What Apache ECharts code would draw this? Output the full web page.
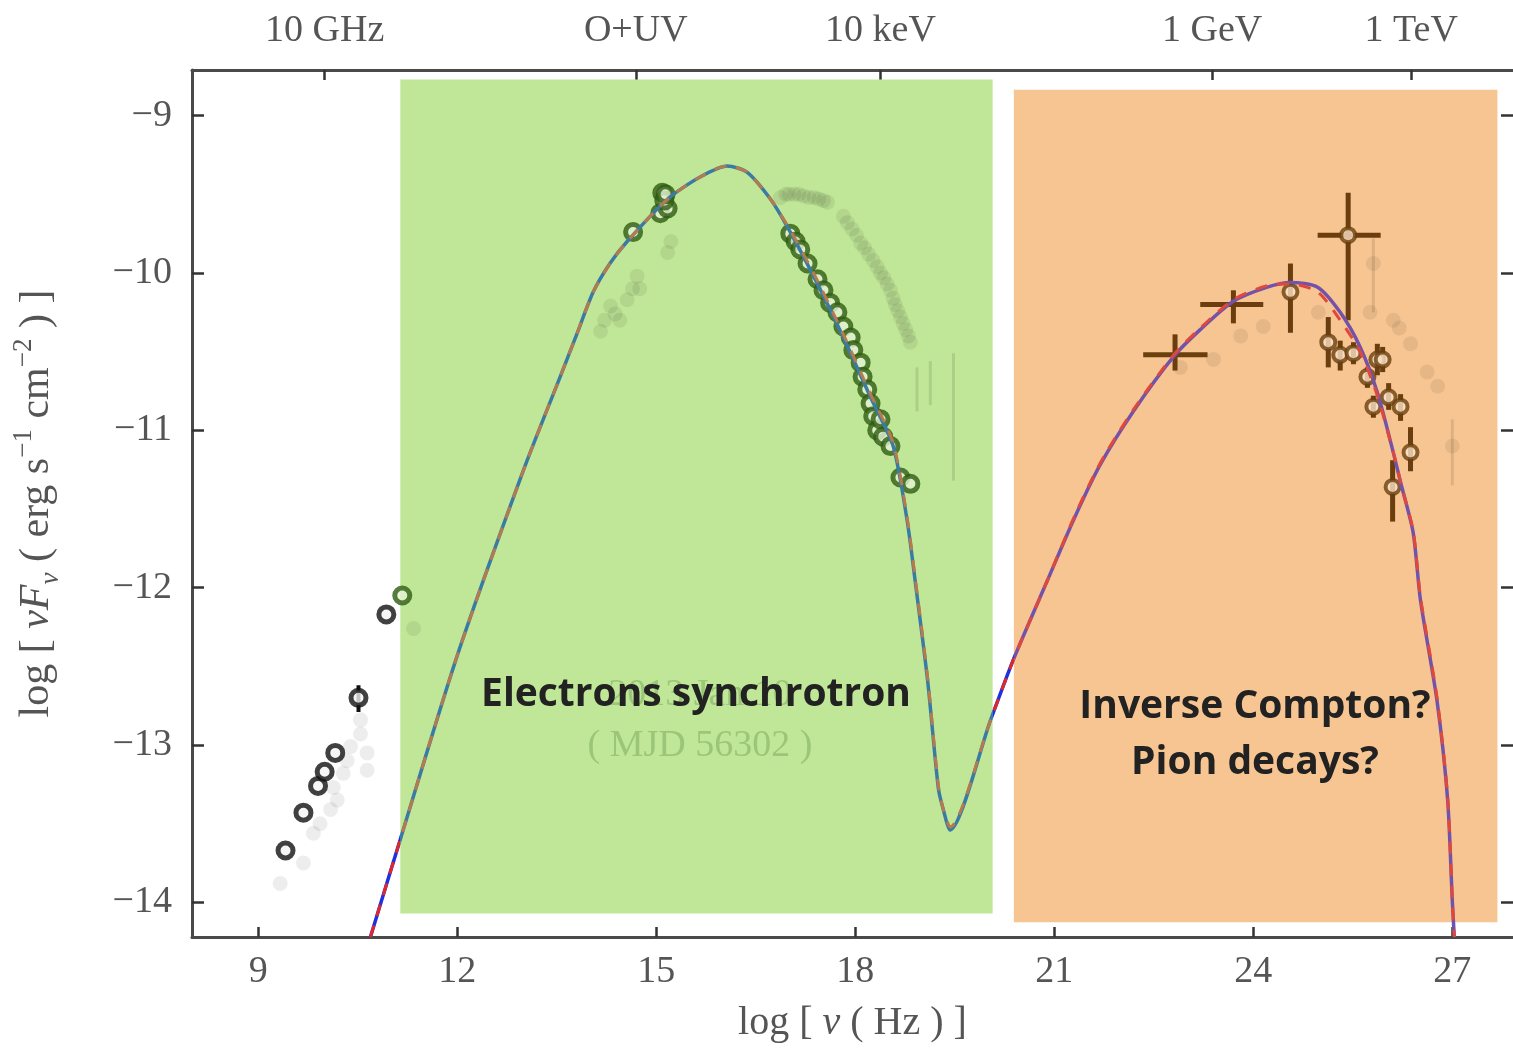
<!DOCTYPE html>
<html>
<head>
<meta charset="utf-8">
<script src="https://cdn.jsdelivr.net/npm/echarts@6/dist/echarts.min.js"></script>
<style>
  html, body { margin: 0; padding: 0; background: #fff; }
  #chart { width: 1513px; height: 1051px; }
</style>
</head>
<body>
<div id="chart"></div>
<script>
// Axis ticks
const xTickValues = [9, 12, 15, 18, 21, 24, 27];
const yTickValues = [-14, -13, -12, -11, -10, -9];
const topTickValues = [10, 14.69, 18.38, 23.38, 26.38];
const topTickLabels = ['10 GHz', 'O+UV', '10 keV', '1 GeV', '1 TeV'];

// Model SED (synchrotron + high-energy hump), log nu vs log nuFnu
const modelLogNu = [10.69, 11.14, 12.0, 13.0, 13.55, 13.8, 14.05, 14.3, 14.56, 15.17, 15.66, 16.07, 16.37, 16.72, 16.98, 17.37, 17.82, 18.23, 18.57, 18.78, 18.9, 19.09, 19.25, 19.32, 19.43, 20.04, 20.38, 20.9, 21.3, 21.69, 22.19, 22.8, 23.2, 23.7, 24.21, 24.56, 24.97, 25.31, 25.61, 25.87, 26.11, 26.22, 26.41, 26.52, 26.77, 26.93, 27.0, 27.03];
const modelSolid = [-14.22, -13.6, -12.43, -11.25, -10.66, -10.39, -10.12, -9.94, -9.8, -9.53, -9.39, -9.32, -9.36, -9.53, -9.71, -10.02, -10.41, -10.79, -11.1, -11.57, -11.95, -12.59, -13.27, -13.4, -13.54, -12.84, -12.46, -11.95, -11.56, -11.22, -10.88, -10.53, -10.36, -10.18, -10.09, -10.06, -10.09, -10.25, -10.47, -10.76, -11.14, -11.33, -11.65, -12.08, -12.72, -13.35, -13.99, -14.22];
const modelDashed = [-14.22, -13.6, -12.43, -11.25, -10.66, -10.39, -10.12, -9.94, -9.8, -9.53, -9.39, -9.32, -9.36, -9.53, -9.7, -10.0, -10.39, -10.77, -11.08, -11.55, -11.93, -12.57, -13.25, -13.4, -13.52, -12.84, -12.46, -11.95, -11.55, -11.21, -10.87, -10.52, -10.35, -10.17, -10.08, -10.07, -10.12, -10.3, -10.5, -10.78, -11.14, -11.33, -11.64, -12.06, -12.7, -13.33, -13.98, -14.22];

// Observed fluxes, 2013 Jan 10
const radioPts = [[9.41, -13.67], [9.68, -13.43], [9.9, -13.26], [10.0, -13.17], [10.16, -13.05], [10.51, -12.70], [10.93, -12.17]];
const radioErr = [[10.51, -12.70, -12.62, -12.79]];
const mmPts = [[11.17, -12.05]];
const opticalUvPts = [[14.65, -9.74], [15.06, -9.62], [15.09, -9.49], [15.17, -9.59], [15.12, -9.54], [15.14, -9.50]];
const xrayPts = [[17.02, -9.75], [17.1, -9.8], [17.17, -9.85], [17.28, -9.94], [17.43, -10.04], [17.52, -10.11], [17.62, -10.19], [17.73, -10.25], [17.82, -10.34], [17.93, -10.41], [17.97, -10.49], [18.08, -10.57], [18.11, -10.66], [18.18, -10.74], [18.23, -10.83], [18.27, -10.91], [18.33, -11.0], [18.38, -10.93], [18.42, -11.04], [18.53, -11.1], [18.68, -11.3], [18.83, -11.34]];
// [logNu, logFlux, logNuLow, logNuHigh, logFluxLow, logFluxHigh]
const gammaGeV = [[22.82, -10.52, 22.34, 23.31, -10.62, -10.39], [23.7, -10.2, 23.2, 24.15, -10.32, -10.11], [24.56, -10.12, 24.56, 24.56, -10.38, -9.94], [25.43, -9.76, 24.97, 25.92, -10.3, -9.49]];
const gammaGeVOpen = [[24.56, -10.12], [25.43, -9.76]];
// [logNu, logFlux, logFluxLow, logFluxHigh]
const gammaTeV = [[25.13, -10.44, -10.6, -10.28], [25.31, -10.52, -10.62, -10.43], [25.51, -10.51, -10.58, -10.44], [25.72, -10.66, -10.73, -10.6], [25.87, -10.55, -10.65, -10.45], [25.95, -10.55, -10.63, -10.47], [25.81, -10.85, -10.92, -10.78], [26.04, -10.79, -10.87, -10.7], [26.22, -10.85, -10.94, -10.77], [26.37, -11.14, -11.26, -10.98], [26.1, -11.36, -11.58, -11.19]];

// Archival state
const archivalPts = [[9.33, -13.88], [9.68, -13.75], [9.83, -13.56], [9.93, -13.5], [10.09, -13.41], [10.19, -13.35], [10.13, -13.27], [10.28, -13.18], [10.34, -13.1], [10.39, -13.01], [10.54, -12.93], [10.64, -13.05], [10.64, -13.16], [10.54, -12.84], [11.34, -12.26],
  [14.16, -10.37], [14.22, -10.3], [14.31, -10.21], [14.38, -10.26], [14.45, -10.3], [14.56, -10.17], [14.64, -10.1], [14.71, -10.02], [14.75, -10.1], [15.17, -9.87], [15.22, -9.8],
  [16.87, -9.52], [16.95, -9.5], [17.0, -9.5], [17.08, -9.5], [17.15, -9.5], [17.22, -9.51], [17.3, -9.52], [17.38, -9.52], [17.45, -9.53], [17.52, -9.54], [17.58, -9.55],
  [17.82, -9.64], [17.88, -9.68], [17.95, -9.72], [18.02, -9.76], [18.08, -9.81], [18.14, -9.84], [18.2, -9.88], [18.27, -9.92], [18.33, -9.96], [18.38, -10.0], [18.43, -10.03], [18.48, -10.07], [18.53, -10.11], [18.57, -10.16], [18.6, -10.2], [18.64, -10.24], [18.68, -10.28], [18.72, -10.32], [18.76, -10.36], [18.8, -10.4], [18.83, -10.44],
  [22.9, -10.6], [23.4, -10.55], [23.81, -10.4], [24.15, -10.34], [24.98, -10.25], [25.76, -10.25], [25.81, -9.94], [26.11, -10.3], [26.2, -10.35], [26.37, -10.45], [26.62, -10.63], [26.78, -10.72], [27.0, -11.1]];
const archivalErr = [[18.93, -10.74, -10.88, -10.6], [19.13, -10.7, -10.84, -10.56], [19.48, -10.76, -11.32, -10.51], [25.81, -9.94, -10.25, -9.78], [27.0, -11.1, -11.35, -10.93]];

const pair = (xs, ys) => xs.map((x, i) => [x, ys[i]]);
const fmtMinus = v => '\u2212' + Math.abs(v);
const serif = 'Liberation Serif';
const axisGrey = '#4a4a4a';
const textGrey = '#555';
const green = '#2e5c10';
const brown = '#6a3e0e';

function vErrRender(color, width) {
  return function (params, api) {
    const x = api.value(0);
    const lo = api.coord([x, api.value(2)]);
    const hi = api.coord([x, api.value(3)]);
    return { type: 'line', shape: { x1: lo[0], y1: lo[1], x2: hi[0], y2: hi[1] }, style: { stroke: color, lineWidth: width } };
  };
}

const chart = echarts.init(document.getElementById('chart'), null, { renderer: 'canvas' });

const xMin = 8, xMax = 27.915, yMin = -14.22, yMax = -8.71;

const option = {
  backgroundColor: '#ffffff',
  animation: false,
  grid: { left: 192, top: 70, right: 0, height: 867, containLabel: false },
  xAxis: [
    {
      type: 'value', position: 'bottom', min: xMin, max: xMax,
      name: '{a|log [ }{i|ν}{a| ( Hz ) ]}', nameLocation: 'middle', nameGap: 66,
      nameTextStyle: { rich: { a: { fontFamily: serif, fontSize: 40, color: textGrey }, i: { fontFamily: serif, fontSize: 40, fontStyle: 'italic', color: textGrey } } },
      axisLine: { lineStyle: { color: axisGrey, width: 3 } },
      axisTick: { inside: true, length: 10, customValues: xTickValues, lineStyle: { color: '#333', width: 2.5 } },
      axisLabel: { customValues: xTickValues, margin: 16, fontFamily: serif, fontSize: 38, color: textGrey },
      splitLine: { show: false }
    },
    {
      type: 'value', position: 'top', min: xMin, max: xMax,
      axisLine: { lineStyle: { color: axisGrey, width: 3 } },
      axisTick: { inside: true, length: 10, customValues: topTickValues, lineStyle: { color: '#333', width: 2.5 } },
      axisLabel: {
        customValues: topTickValues, margin: 20, fontFamily: serif, fontSize: 38, color: textGrey,
        formatter: v => { const i = topTickValues.findIndex(t => Math.abs(t - v) < 1e-6); return i >= 0 ? topTickLabels[i] : ''; }
      },
      splitLine: { show: false }
    }
  ],
  yAxis: [
    {
      type: 'value', position: 'left', min: yMin, max: yMax,
      name: '{a|log [ }{i|νF}{s|ν}{a| ( erg s}{p|−1}{a| cm}{p|−2}{a| ) ]}',
      nameLocation: 'middle', nameGap: 128, nameRotate: 90,
      nameTextStyle: {
        rich: {
          a: { fontFamily: serif, fontSize: 42, color: textGrey, lineHeight: 54 },
          i: { fontFamily: serif, fontSize: 42, fontStyle: 'italic', color: textGrey, lineHeight: 54 },
          s: { fontFamily: serif, fontSize: 27, fontStyle: 'italic', color: textGrey, verticalAlign: 'bottom', lineHeight: 54 },
          p: { fontFamily: serif, fontSize: 27, color: textGrey, verticalAlign: 'top', lineHeight: 54 }
        }
      },
      axisLine: { lineStyle: { color: axisGrey, width: 3 } },
      axisTick: { inside: true, length: 12, customValues: yTickValues, lineStyle: { color: '#333', width: 2.5 } },
      axisLabel: { customValues: yTickValues, margin: 20, fontFamily: serif, fontSize: 38, color: textGrey, formatter: fmtMinus },
      splitLine: { show: false }
    },
    {
      type: 'value', position: 'right', min: yMin, max: yMax,
      axisLine: { show: false },
      axisTick: { show: true, inside: true, length: 12, customValues: yTickValues, lineStyle: { color: '#333', width: 2.5 } },
      axisLabel: { show: false },
      splitLine: { show: false }
    }
  ],
  visualMap: [
    {
      show: false, type: 'piecewise', seriesIndex: 8, dimension: 0,
      pieces: [
        { lt: 11.14, color: '#2030e0' },
        { gte: 11.14, lt: 20.07, color: '#3b7aa2' },
        { gte: 20.07, lt: 20.39, color: '#2030e0' },
        { gte: 20.39, color: '#7452a8' }
      ]
    },
    {
      show: false, type: 'piecewise', seriesIndex: 9, dimension: 0,
      pieces: [
        { lt: 11.14, color: '#e02828' },
        { gte: 11.14, lt: 20.07, color: '#b77a4c' },
        { gte: 20.07, lt: 20.39, color: '#e02828' },
        { gte: 20.39, color: '#e0483c' }
      ]
    }
  ],
  series: [
    // 0: shaded emission bands
    {
      type: 'custom', z: 1, silent: true,
      data: [[11.14, 20.07, -8.771, -14.07], [20.39, 27.68, -8.835, -14.127]],
      renderItem: (params, api) => {
        const p0 = api.coord([api.value(0), api.value(2)]);
        const p1 = api.coord([api.value(1), api.value(3)]);
        return { type: 'rect', shape: { x: p0[0], y: p0[1], width: p1[0] - p0[0], height: p1[1] - p0[1] }, style: { fill: params.dataIndex === 0 ? '#c0e797' : '#f7c591' } };
      }
    },
    // 1: archival points
    {
      type: 'scatter', z: 2, data: archivalPts, symbol: 'circle', symbolSize: 15,
      itemStyle: { color: 'rgba(0,0,0,0.085)', shadowBlur: 6, shadowColor: 'rgba(0,0,0,0.06)' }, silent: true
    },
    // 2: archival error bars
    { type: 'custom', z: 2, data: archivalErr, renderItem: vErrRender('rgba(0,0,0,0.1)', 3), silent: true },
    // 3: radio
    {
      type: 'scatter', z: 3, data: radioPts, symbol: 'circle', symbolSize: 15,
      itemStyle: { color: '#f4f4f4', borderColor: '#111', borderWidth: 5 }
    },
    // 4: radio error bar
    { type: 'custom', z: 3, data: radioErr, renderItem: vErrRender('#111', 4) },
    // 5: mm, optical/UV and X-ray
    {
      type: 'scatter', z: 3, data: mmPts.concat(opticalUvPts, xrayPts), symbol: 'circle', symbolSize: 15,
      itemStyle: { color: '#e2f1d2', borderColor: green, borderWidth: 5 }
    },
    // 6: gamma-ray error crosses
    {
      type: 'custom', z: 3, data: gammaGeV,
      renderItem: (params, api) => {
        const x = api.value(0), y = api.value(1);
        const a = api.coord([api.value(2), y]), b = api.coord([api.value(3), y]);
        const c = api.coord([x, api.value(4)]), d = api.coord([x, api.value(5)]);
        return {
          type: 'group', children: [
            { type: 'line', shape: { x1: a[0], y1: a[1], x2: b[0], y2: b[1] }, style: { stroke: brown, lineWidth: 5 } },
            { type: 'line', shape: { x1: c[0], y1: c[1], x2: d[0], y2: d[1] }, style: { stroke: brown, lineWidth: 5 } }
          ]
        };
      }
    },
    // 7: TeV error bars
    { type: 'custom', z: 3, data: gammaTeV, renderItem: vErrRender(brown, 5) },
    // 8: model (solid)
    {
      type: 'line', z: 4, data: pair(modelLogNu, modelSolid), showSymbol: false, smooth: 0.25,
      lineStyle: { width: 3.5 }
    },
    // 9: model (dashed)
    {
      type: 'line', z: 5, data: pair(modelLogNu, modelDashed), showSymbol: false, smooth: 0.25,
      lineStyle: { width: 3, type: [12, 10] }
    },
    // 10: gamma markers
    {
      type: 'scatter', z: 3, data: gammaGeVOpen.concat(gammaTeV.map(p => [p[0], p[1]])), symbol: 'circle', symbolSize: 14,
      itemStyle: { color: '#fbe2c6', borderColor: brown, borderWidth: 4 }
    }
  ],
  graphic: [
    { type: 'text', z: 3, style: { text: '2013 Jan 10', x: 700, y: 695, align: 'center', verticalAlign: 'middle', font: '38px "Liberation Serif"', fill: 'rgba(60,110,40,0.28)' } },
    { type: 'text', z: 3, style: { text: '( MJD 56302 )', x: 700, y: 746, align: 'center', verticalAlign: 'middle', font: '38px "Liberation Serif"', fill: 'rgba(60,110,40,0.28)' } },
    { type: 'text', z: 10, style: { text: 'Electrons synchrotron', x: 696, y: 695, align: 'center', verticalAlign: 'middle', font: 'bold 39px "Open Sans"', fill: '#222' } },
    { type: 'text', z: 10, style: { text: 'Inverse Compton?', x: 1255, y: 707, align: 'center', verticalAlign: 'middle', font: 'bold 39px "Open Sans"', fill: '#222' } },
    { type: 'text', z: 10, style: { text: 'Pion decays?', x: 1255, y: 763, align: 'center', verticalAlign: 'middle', font: 'bold 39px "Open Sans"', fill: '#222' } }
  ]
};

chart.setOption(option);
</script>
</body>
</html>
